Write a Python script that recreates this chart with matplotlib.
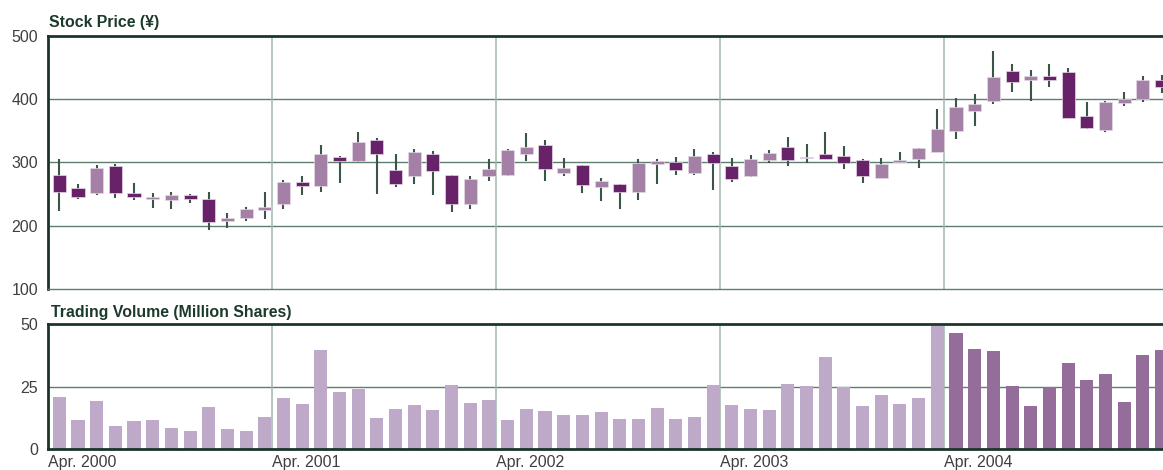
import numpy as np
import matplotlib
matplotlib.use("Agg")
import matplotlib.pyplot as plt

# ---- data (monthly, Apr 2000 .. Mar 2005) ----
open_ = [280, 260, 251, 295, 252, 242, 241, 249, 242, 208, 213, 225,
         234, 269, 263, 308, 302, 336, 288, 278, 313, 280, 235, 278,
         280, 314, 328, 284, 296, 261, 266, 254, 298, 301, 284, 313,
         294, 279, 304, 324, 307, 313, 311, 304, 276, 301, 305, 317,
         350, 381, 397, 445, 430, 437, 443, 373, 351, 394, 400, 430]
close = [254, 246, 292, 251, 246, 245, 249, 242, 206, 212, 226, 229,
         269, 263, 313, 303, 333, 313, 266, 316, 286, 235, 274, 290,
         320, 324, 289, 292, 265, 271, 253, 300, 302, 288, 310, 299,
         274, 305, 315, 304, 309, 306, 299, 279, 298, 304, 323, 353,
         388, 393, 435, 427, 437, 431, 371, 355, 396, 400, 430, 420]
high = [306, 266, 296, 297, 268, 252, 253, 250, 253, 220, 230, 253,
        272, 279, 328, 311, 348, 338, 313, 321, 318, 280, 279, 305,
        321, 347, 336, 307, 296, 276, 266, 306, 305, 309, 321, 316,
        307, 312, 320, 340, 329, 348, 326, 306, 307, 317, 323, 384,
        402, 408, 476, 456, 447, 456, 450, 396, 398, 411, 436, 438]
low = [223, 243, 248, 244, 241, 228, 226, 236, 194, 196, 207, 211,
       226, 249, 253, 267, 300, 250, 262, 266, 248, 221, 226, 271,
       279, 303, 270, 278, 252, 239, 227, 240, 266, 280, 281, 256,
       269, 277, 299, 294, 299, 306, 289, 268, 276, 299, 292, 317,
       337, 357, 393, 411, 397, 420, 370, 353, 348, 390, 396, 410]
volume = [21.1, 11.8, 19.5, 9.4, 11.4, 11.8, 8.6, 7.4, 17.1, 8.2, 7.4, 13.0,
          20.7, 18.3, 39.6, 23.1, 24.3, 12.6, 16.2, 17.9, 15.9, 25.9, 18.7, 19.9,
          11.8, 16.3, 15.5, 13.8, 13.8, 15.1, 12.2, 12.2, 16.7, 12.2, 13.0, 25.9,
          17.9, 16.3, 15.9, 26.3, 25.5, 36.8, 25.0, 17.5, 21.9, 18.3, 20.7, 49.3,
          46.5, 40.1, 39.2, 25.5, 17.5, 25.1, 34.4, 27.6, 30.0, 19.1, 37.6, 39.7]
year_ticks = [0, 12, 24, 36, 48]
year_labels = ["Apr. 2000", "Apr. 2001", "Apr. 2002", "Apr. 2003", "Apr. 2004"]
price_ticks = [100, 200, 300, 400, 500]
volume_ticks = [0, 25, 50]

# ---- style ----
DARK = "#68226A"
LIGHT = "#A47FA6"
VOL_LIGHT = "#BFA9C8"
VOL_DARK = "#946D9B"
WICK = "#3B5649"
GRID = "#5F7E72"
VGRID = "#A0B6AD"
SPINE = "#1C3528"
TITLE = "#1C3A2C"
TICK = "#3F3F3F"
FONT = ["Liberation Sans", "DejaVu Sans"]

plt.rcParams["font.family"] = FONT

W, H = 1163, 470
fig = plt.figure(figsize=(W / 100, H / 100), dpi=100)

left = 47.7 / W
ax1 = fig.add_axes([left, 1 - 289 / H, 1 - left, (289 - 36) / H])
ax2 = fig.add_axes([left, 1 - 449.3 / H, 1 - left, (449.3 - 324.3) / H])

n = len(open_)
x = np.arange(n) + 0.62
o = np.array(open_, float)
c = np.array(close, float)
hi = np.array(high, float)
lo = np.array(low, float)
cols = [DARK if cc < oo else LIGHT for oo, cc in zip(o, c)]

XMAX = 59.7

# price candles
ax1.vlines(x, lo, hi, color=WICK, lw=1.5, zorder=2)
body_bottom = np.minimum(o, c)
body_h = np.maximum(np.abs(c - o), 1.2)
ax1.bar(x, body_h, bottom=body_bottom, width=0.7, color=cols,
        edgecolor="#E4D8E6", linewidth=0.5, zorder=2.2)
ax1.set_ylim(100, 500)
ax1.set_xlim(0, XMAX)
for yv in [200, 300, 400]:
    ax1.axhline(yv, color=GRID, lw=1.0, zorder=1)
for xv in year_ticks[1:]:
    ax1.axvline(xv, color=VGRID, lw=1.1, zorder=1)
ax1.set_yticks(price_ticks)
ax1.set_yticklabels([str(t) for t in price_ticks])
ax1.set_xticks([])

# volume bars
vcols = [VOL_LIGHT if i < 48 else VOL_DARK for i in range(n)]
ax2.bar(x, volume, width=0.7, color=vcols, zorder=2)
ax2.set_ylim(0, 50)
ax2.set_xlim(0, XMAX)
ax2.axhline(25, color=GRID, lw=1.0, zorder=1)
for xv in year_ticks[1:]:
    ax2.axvline(xv, color=VGRID, lw=1.1, zorder=1)
ax2.set_yticks(volume_ticks)
ax2.set_yticklabels([str(t) for t in volume_ticks])
ax2.set_xticks(year_ticks)
ax2.set_xticklabels(year_labels, ha="left")

for ax in (ax1, ax2):
    ax.spines["right"].set_visible(False)
    ax.spines["left"].set_color(SPINE)
    ax.spines["left"].set_linewidth(2.0)
    ax.spines["top"].set_color(SPINE)
    ax.spines["top"].set_linewidth(2.0)
    ax.tick_params(axis="both", length=0, labelsize=11.5, labelcolor=TICK)
    ax.tick_params(axis="y", pad=7)
    ax.tick_params(axis="x", pad=4)
    ax.set_facecolor("white")

ax1.spines["bottom"].set_color(GRID)
ax1.spines["bottom"].set_linewidth(1.0)
ax2.spines["bottom"].set_color(SPINE)
ax2.spines["bottom"].set_linewidth(2.0)

title_font = ["Liberation Sans Narrow", "Liberation Sans", "DejaVu Sans"]
fig.text(49 / W, 1 - 27.5 / H, "Stock Price (¥)", family=title_font,
         fontweight="bold", fontsize=11.4, color=TITLE, va="baseline")
fig.text(51 / W, 1 - 316.5 / H, "Trading Volume (Million Shares)", family=title_font,
         fontweight="bold", fontsize=11.4, color=TITLE, va="baseline")

fig.savefig("out.png", dpi=100)
